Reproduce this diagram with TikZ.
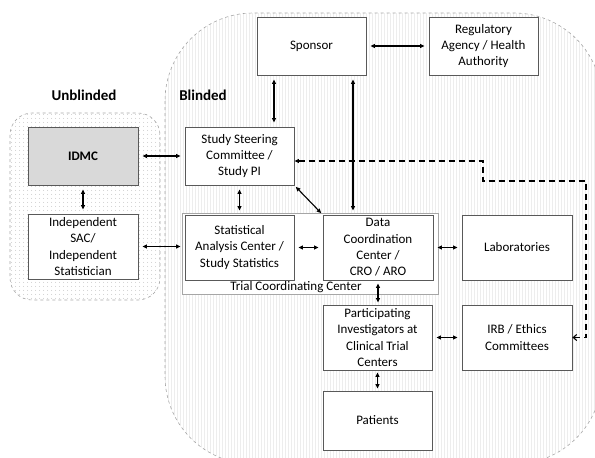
\documentclass[tikz,border=0pt]{standalone}
\usepackage{fontspec}
\setmainfont{Carlito}
\usetikzlibrary{arrows.meta,patterns.meta}

\newlength{\du}
\setlength{\du}{1pt}

\definecolor{boxline}{rgb}{0.350000, 0.350000, 0.350000}
\definecolor{idmcfill}{rgb}{0.850000, 0.850000, 0.850000}
\definecolor{zoneline}{rgb}{0.650000, 0.650000, 0.650000}

\tikzset{
  unit/.style={draw=boxline, line width=0.8\du, fill=white, inner sep=0pt,
    align=center, font=\fontsize{13}{16.3}\selectfont},
  link/.style={{Triangle[length=4.5pt,width=4pt]}-{Triangle[length=4.5pt,width=4pt]},
    line width=1.1\du, shorten <=4\du, shorten >=4\du},
  relay/.style={{Triangle[length=4.5pt,width=4pt]}-{Straight Barb[length=3.5pt,width=6pt]},
    line width=1.1\du, dash pattern=on 6\du off 4\du},
  zonetitle/.style={font=\fontsize{15}{18}\selectfont\bfseries}
}

\begin{document}
\begin{tikzpicture}
\pgftransformxscale{1.000000}
\pgftransformyscale{-1.000000}
\useasboundingbox (0\du,0\du) rectangle (595\du,458\du);

% shaded zones
\begin{scope}
\clip (0\du,0\du) rectangle (595\du,458\du);
\draw[draw=zoneline, line width=0.6\du, dashed, rounded corners=88\du,
  pattern={Lines[angle=90,distance=3pt,line width=0.5pt]}, pattern color=gray!14]
  (165\du,13\du) rectangle (602\du,464\du);
\end{scope}
\draw[draw=zoneline, line width=0.6\du, dashed, rounded corners=22\du,
  pattern={Dots[distance=4pt,radius=0.6pt]}, pattern color=gray!45]
  (10\du,113\du) rectangle (160\du,300\du);

\node[zonetitle] (unblinded) at (84\du,95\du) {Unblinded};
\node[zonetitle] (blinded) at (203\du,95\du) {Blinded};

% trial coordinating center
\node[draw=zoneline, line width=0.8\du, fill=white, minimum width=256\du, minimum height=81\du]
  (tcc) at (310\du,253.5\du) {};
\node[font=\fontsize{13}{16.3}\selectfont] (tcclabel) at (296\du,287\du) {Trial Coordinating Center};

\node[unit, minimum width=109\du, minimum height=58\du] (sponsor) at (311.5\du,46\du) {Sponsor};
\node[unit, minimum width=109\du, minimum height=58\du] (reg) at (483.5\du,46\du) {Regulatory\\Agency / Health\\Authority};
\node[unit, minimum width=110\du, minimum height=58\du, fill=idmcfill, font=\fontsize{13}{16.3}\selectfont\bfseries] (idmc) at (83\du,156\du) {IDMC};
\node[unit, minimum width=110\du, minimum height=65\du] (sac) at (83\du,246.5\du) {Independent\\SAC/\\Independent\\Statistician};
\node[unit, minimum width=109\du, minimum height=58\du] (steer) at (239.5\du,156\du) {Study Steering\\Committee /\\Study PI};
\node[unit, minimum width=109\du, minimum height=65\du] (stat) at (239.5\du,247.5\du) {Statistical\\Analysis Center /\\Study Statistics};
\node[unit, minimum width=110\du, minimum height=65\du] (data) at (378\du,247.5\du) {Data\\Coordination\\Center /\\CRO / ARO};
\node[unit, minimum width=110\du, minimum height=65\du] (labs) at (517\du,247.5\du) {Laboratories};
\node[unit, minimum width=109\du, minimum height=65\du] (part) at (377.5\du,337.5\du) {Participating\\Investigators at\\Clinical Trial\\Centers};
\node[unit, minimum width=110\du, minimum height=65\du] (irb) at (517\du,337.5\du) {IRB / Ethics\\Committees};
\node[unit, minimum width=109\du, minimum height=59\du] (patients) at (377.5\du,420.5\du) {Patients};

% links
\draw[link] (idmc) -- (steer);
\draw[link] (idmc) -- (sac);
\draw[link] (sac.east) -- (stat.west |- sac.east);
\draw[link] (sponsor) -- (reg);
\draw[link] ([xshift=-37.5\du]sponsor.south) -- ([xshift=-37.5\du]sponsor.south |- steer.north);
\draw[link] ([xshift=41.5\du]sponsor.south) -- ([xshift=41.5\du]sponsor.south |- data.north);
\draw[link] (steer) -- (stat);
\draw[link, shorten <=2\du, shorten >=2\du] (steer.south east) -- (data.north west);
\draw[link] (stat) -- (data);
\draw[link] (data) -- (labs);
\draw[link, shorten <=3\du, shorten >=2\du] (data.south) -- (data.south |- part.north);
\draw[link] (part) -- (irb);
\draw[link, shorten <=2\du, shorten >=2\du] (part) -- (patients);

% dashed relay to the ethics committees
\coordinate (dashtop) at (483\du,161\du);
\coordinate (dashbend) at (483\du,181\du);
\coordinate (dashright) at (586\du,181\du);
\draw[relay] (steer.east |- dashtop) -- (dashtop) -- (dashbend) -- (dashright) |- (irb.east);
\end{tikzpicture}
\end{document}
